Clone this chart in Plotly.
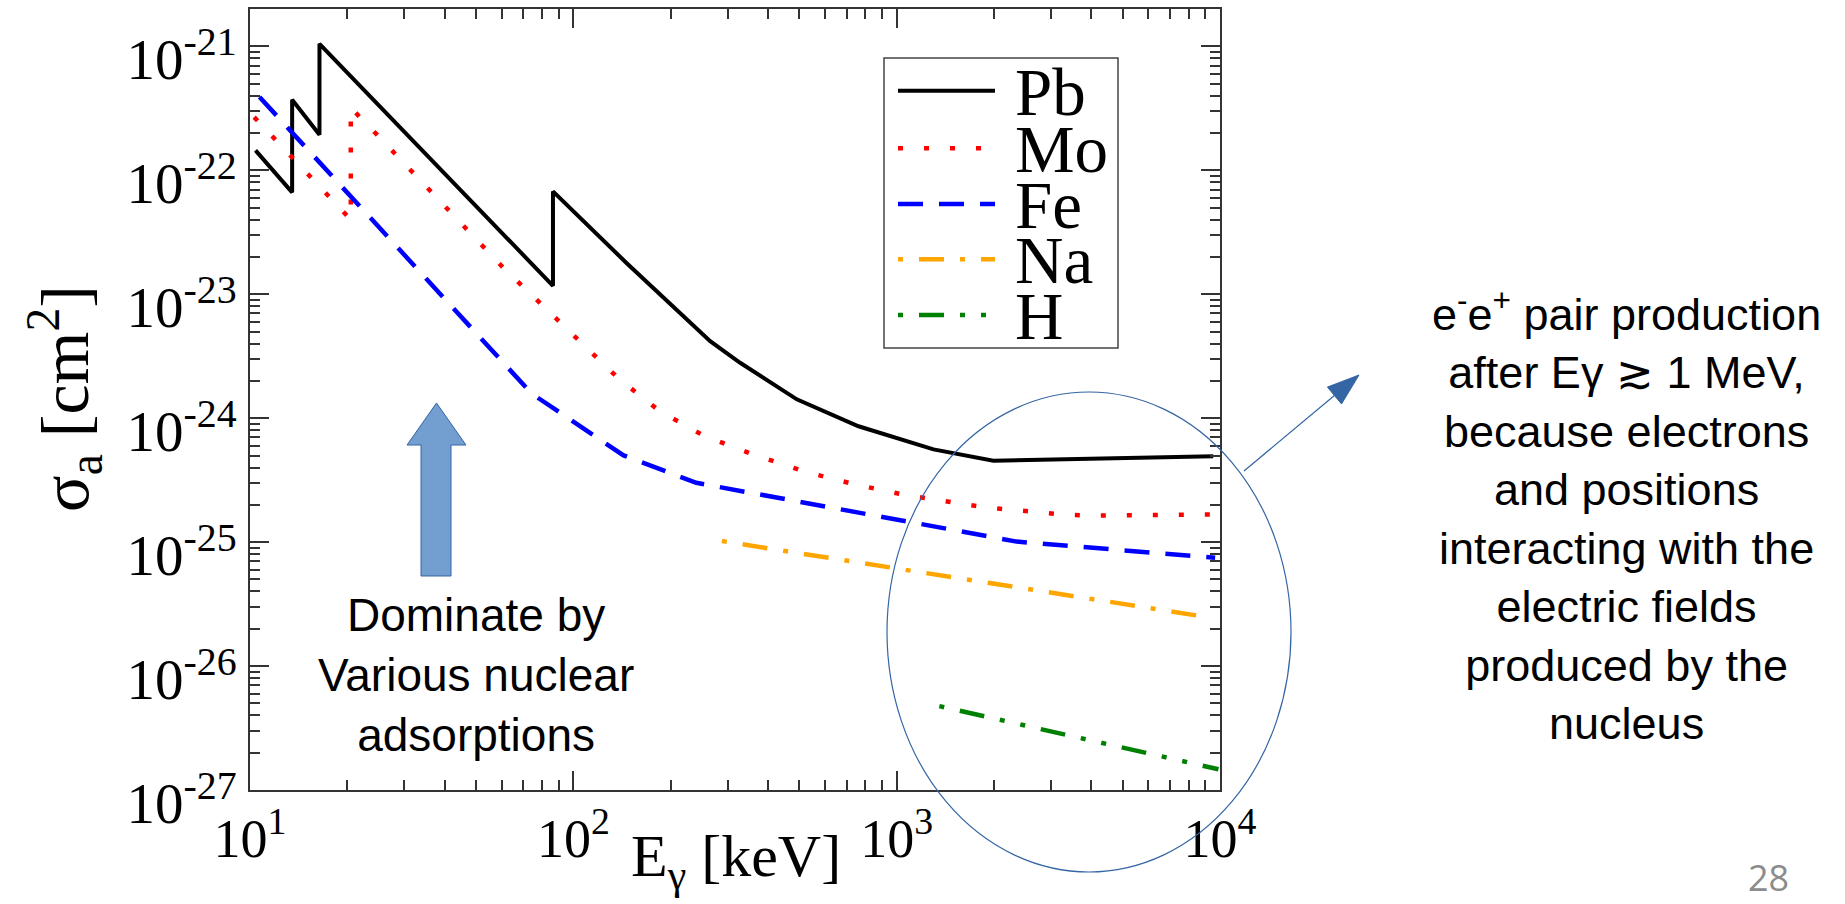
import plotly.graph_objects as go

# Photon absorption cross sections, energy in keV and sigma in cm^2
pb_energy = [10.4, 13.5, 13.5, 16.4, 16.4, 86.5, 86.5, 146, 265, 328, 491, 762, 1300, 1990, 9530]
pb_sigma = [1.45e-22, 6.65e-23, 3.72e-22, 1.94e-22, 1.05e-21, 1.17e-23, 6.76e-23, 1.79e-23,
            4.18e-24, 2.80e-24, 1.42e-24, 8.61e-25, 5.60e-25, 4.54e-25, 4.94e-25]

mo_energy = [10.3, 20.5, 20.5, 24.7, 60.8, 105, 138, 185, 255, 361, 514, 743, 1074, 1875, 3273, 3963, 9530]
mo_sigma = [2.69e-22, 4.0e-23, 3.2e-22, 1.94e-22, 1.63e-23, 4.10e-24, 2.09e-24, 1.14e-24, 7.16e-25,
            5.09e-25, 3.74e-25, 2.92e-25, 2.39e-25, 1.91e-25, 1.67e-25, 1.64e-25, 1.67e-25]

fe_energy = [10.7, 74.3, 143, 240, 2350, 9660]
fe_sigma = [3.91e-22, 1.58e-24, 5.01e-25, 3.01e-25, 1.01e-25, 7.48e-26]

na_energy = [288, 9440]
na_sigma = [1.02e-25, 2.45e-26]

h_energy = [1355, 9890]
h_sigma = [4.75e-27, 1.47e-27]

element_names = ["Pb", "Mo", "Fe", "Na", "H"]

x_tick_values = [1e1, 1e2, 1e3, 1e4]
x_tick_labels = ["10<sup>1</sup>", "10<sup>2</sup>", "10<sup>3</sup>", "10<sup>4</sup>"]
y_tick_values = [1e-27, 1e-26, 1e-25, 1e-24, 1e-23, 1e-22, 1e-21]
y_tick_labels = ["10<sup>-27</sup>", "10<sup>-26</sup>", "10<sup>-25</sup>", "10<sup>-24</sup>",
                 "10<sup>-23</sup>", "10<sup>-22</sup>", "10<sup>-21</sup>"]

# line styles per element
styles = {
    "Pb": dict(color="#000000", width=4, dash="solid"),
    "Mo": dict(color="#ff0000", width=4.5, dash="5px,21px"),
    "Fe": dict(color="#0000ff", width=4.5, dash="25px,16px"),
    "Na": dict(color="#ffa500", width=4.5, dash="5px,16px,25px,16px"),
    "H": dict(color="#008000", width=4.5, dash="5px,16px,25px,16px,5px,16px"),
}

series = {
    "Pb": (pb_energy, pb_sigma),
    "Mo": (mo_energy, mo_sigma),
    "Fe": (fe_energy, fe_sigma),
    "Na": (na_energy, na_sigma),
    "H": (h_energy, h_sigma),
}

W, H = 1845, 904
L, R, T, B = 250, 625, 9, 114
PLOT_W = W - L - R
PLOT_H = H - T - B


def px_x(px):
    return (px - L) / PLOT_W


def px_y(py):
    return (H - B - py) / PLOT_H


fig = go.Figure()
for name in element_names:
    e, s = series[name]
    fig.add_trace(go.Scatter(x=e, y=s, mode="lines", name=name, line=styles[name],
                             hoverinfo="x+y+name"))

axis_col = "#333333"
serif = "Liberation Serif"
sans = "Liberation Sans"

common_axis = dict(
    type="log", tickmode="array", ticks="inside", ticklen=19, tickwidth=2, tickcolor=axis_col,
    showline=True, linecolor=axis_col, linewidth=2, mirror="ticks", showgrid=False, zeroline=False,
    ticklabeloverflow="allow", automargin=False,
    minor=dict(ticks="inside", ticklen=10, tickwidth=2, tickcolor=axis_col, dtick="D1", showgrid=False),
)

fig.update_layout(
    width=W, height=H, margin=dict(l=L, r=R, t=T, b=B, autoexpand=False),
    paper_bgcolor="white", plot_bgcolor="white", showlegend=False,
    xaxis=dict(common_axis, range=[1, 4], tickvals=x_tick_values, ticktext=x_tick_labels,
               tickfont=dict(family=serif, size=54, color="black")),
    yaxis=dict(common_axis, range=[-27, -20.698], tickvals=y_tick_values, ticktext=y_tick_labels,
               tickfont=dict(family=serif, size=57, color="black"), ticklabelshift=13),
)

shapes = []
annotations = []

# legend frame, samples and names
shapes.append(dict(type="rect", xref="paper", yref="paper", x0=px_x(884), x1=px_x(1118),
                   y0=px_y(348), y1=px_y(58), line=dict(color="#444444", width=1.5),
                   fillcolor="white", layer="above"))
legend_rows = [90.7, 148.3, 204, 259.3, 315]
for name, ly in zip(element_names, legend_rows):
    st = styles[name]
    shapes.append(dict(type="line", xref="paper", yref="paper", x0=px_x(898), x1=px_x(995),
                       y0=px_y(ly), y1=px_y(ly),
                       line=dict(color=st["color"], width=st["width"], dash=st["dash"])))
    annotations.append(dict(xref="paper", yref="paper", x=px_x(1013), y=px_y(ly + 1),
                            xanchor="left", yanchor="middle", text=name, showarrow=False,
                            font=dict(family=serif, size=67, color="black")))

# axis titles
annotations.append(dict(xref="paper", yref="paper", x=px_x(736), y=px_y(860), xanchor="center",
                        yanchor="middle", text="E<sub>γ</sub> [keV]", showarrow=False,
                        font=dict(family=serif, size=60, color="black")))
annotations.append(dict(xref="paper", yref="paper", x=px_x(64), y=px_y(399), xanchor="center",
                        yanchor="middle", text="σ<sub>a</sub> [cm<sup>2</sup>]", textangle=-90,
                        showarrow=False, font=dict(family=serif, size=68, color="black")))

# up arrow and note on nuclear absorption
arrow_pts = [(436.5, 403), (466, 445), (451, 445), (451, 576), (421, 576), (421, 445), (407, 445)]
path = "M " + " L ".join(f"{px_x(x):.5f},{px_y(y):.5f}" for x, y in arrow_pts) + " Z"
shapes.append(dict(type="path", xref="paper", yref="paper", path=path, fillcolor="#729fcf",
                   line=dict(color="#3465a4", width=1)))
annotations.append(dict(xref="paper", yref="paper", x=px_x(476), y=px_y(675), xanchor="center",
                        yanchor="middle", text="Dominate by<br>Various nuclear<br>adsorptions",
                        showarrow=False, font=dict(family=sans, size=46, color="black")))

# ellipse around the high-energy region
shapes.append(dict(type="circle", xref="paper", yref="paper", x0=px_x(887), x1=px_x(1291),
                   y0=px_y(872), y1=px_y(392), line=dict(color="#3465a4", width=1.2)))

# pointer from the ellipse to the explanation
tip = (1359, 375)
base = (1334.4, 395.5)
shapes.append(dict(type="line", xref="paper", yref="paper", x0=px_x(1244), y0=px_y(471),
                   x1=px_x(base[0]), y1=px_y(base[1]), line=dict(color="#3465a4", width=1.2)))
head = [tip, (1341.5, 404), (1327.4, 387.1)]
hpath = "M " + " L ".join(f"{px_x(x):.5f},{px_y(y):.5f}" for x, y in head) + " Z"
shapes.append(dict(type="path", xref="paper", yref="paper", path=hpath, fillcolor="#3465a4",
                   line=dict(color="#3465a4", width=1)))

annotations.append(dict(
    xref="paper", yref="paper", x=px_x(1626), y=px_y(515), xanchor="center", yanchor="middle",
    text=("e<sup>-</sup>e<sup>+</sup> pair production<br>after Eγ ≳ 1 MeV,<br>because electrons<br>"
          "and positions<br>interacting with the<br>electric fields<br>produced by the<br>nucleus"),
    showarrow=False, font=dict(family=sans, size=45, color="black")))

# page number
annotations.append(dict(xref="paper", yref="paper", x=px_x(1768), y=px_y(877), xanchor="center",
                        yanchor="middle", text="28", showarrow=False,
                        font=dict(family="Open Sans", size=36, color="#8c8c8c")))

fig.update_layout(shapes=shapes, annotations=annotations)

fig.write_html("out.html", post_script="document.body.style.margin='0';")
